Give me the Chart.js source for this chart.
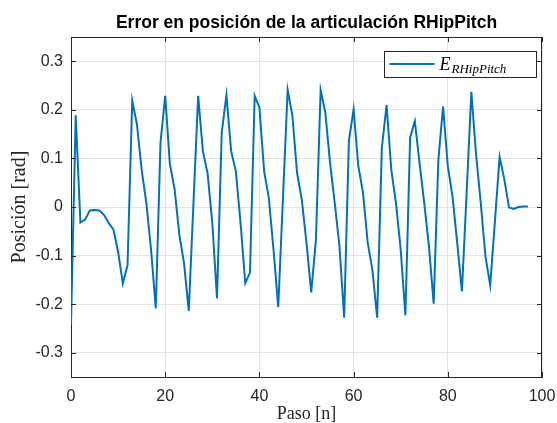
<!DOCTYPE html>
<html>
<head>
<meta charset="utf-8">
<style>
  html, body { margin: 0; padding: 0; background: #fff; }
  #wrap { position: relative; width: 557px; height: 423px; }
</style>
<script src="https://cdn.jsdelivr.net/npm/chart.js@4.4.1/dist/chart.umd.min.js"></script>
</head>
<body>
<div id="wrap"><canvas id="errorChart"></canvas></div>
<script>
// values
const paso = [
  0, 1, 2, 3, 4, 5, 6, 7, 8, 9,
  10, 11, 12, 13, 14, 15, 16, 17, 18, 19,
  20, 21, 22, 23, 24, 25, 26, 27, 28, 29,
  30, 31, 32, 33, 34, 35, 36, 37, 38, 39,
  40, 41, 42, 43, 44, 45, 46, 47, 48, 49,
  50, 51, 52, 53, 54, 55, 56, 57, 58, 59,
  60, 61, 62, 63, 64, 65, 66, 67, 68, 69,
  70, 71, 72, 73, 74, 75, 76, 77, 78, 79,
  80, 81, 82, 83, 84, 85, 86, 87, 88, 89,
  90, 91, 92, 93, 94, 95, 96, 97
];
const errorRHipPitch = [
  -0.243, 0.189, -0.032, -0.026, -0.007, -0.006, -0.007, -0.016, -0.033, -0.046,
  -0.092, -0.157, -0.120, 0.219, 0.170, 0.077, 0.008, -0.088, -0.209, 0.132,
  0.229, 0.088, 0.036, -0.057, -0.116, -0.214, 0.008, 0.229, 0.115, 0.069,
  -0.033, -0.188, 0.153, 0.230, 0.115, 0.074, -0.033, -0.157, -0.135, 0.229,
  0.205, 0.074, 0.019, -0.088, -0.206, 0.018, 0.241, 0.188, 0.070, 0.015,
  -0.074, -0.176, -0.068, 0.241, 0.194, 0.091, 0.008, -0.081, -0.228, 0.136,
  0.201, 0.084, 0.029, -0.074, -0.130, -0.228, 0.122, 0.210, 0.077, 0.008,
  -0.088, -0.223, 0.143, 0.177, 0.091, 0.008, -0.081, -0.199, 0.098, 0.207,
  0.084, 0.022, -0.074, -0.174, 0.030, 0.237, 0.108, 0.008, -0.102, -0.161,
  -0.030, 0.103, 0.057, -0.001, -0.004, 0.000, 0.001, 0.001
];
const xTicks = [0, 20, 40, 60, 80, 100];
const yTicks = [-0.3, -0.2, -0.1, 0, 0.1, 0.2, 0.3];
const titulo = 'Error en posición de la articulación RHipPitch';
const tituloX = 'Paso [n]';
const tituloY = 'Posición [rad]';
const leyendaBase = 'E';
const leyendaSub = 'RHipPitch';

const lineColor = '#0072BD';
const axisColor = '#262626';
const gridColor = '#e3e3e3';
const serif = "'Liberation Serif', 'Times New Roman', serif";
const sans = "'Liberation Sans', Arial, sans-serif";

// MATLAB style box, inward ticks and the legend with a subscript
const matlabBox = {
  id: 'matlabBox',
  afterDraw(chart) {
    const { ctx, scales: { x, y } } = chart;
    const left = x.left, right = x.right, top = y.top, bottom = y.bottom;
    const tick = 5;
    ctx.save();
    ctx.strokeStyle = axisColor;
    ctx.lineWidth = 1;
    ctx.beginPath();
    xTicks.forEach(v => {
      const px = Math.round(x.getPixelForValue(v)) + 0.5;
      ctx.moveTo(px, bottom); ctx.lineTo(px, bottom - tick);
      ctx.moveTo(px, top); ctx.lineTo(px, top + tick);
    });
    yTicks.forEach(v => {
      const py = Math.round(y.getPixelForValue(v)) + 0.5;
      ctx.moveTo(left, py); ctx.lineTo(left + tick, py);
      ctx.moveTo(right, py); ctx.lineTo(right - tick, py);
    });
    ctx.moveTo(left, Math.round(top) + 0.5); ctx.lineTo(right, Math.round(top) + 0.5);
    ctx.moveTo(Math.round(right) - 0.5, top); ctx.lineTo(Math.round(right) - 0.5, bottom);
    ctx.stroke();

    // legend
    const bx = 384.5, by = 51.5, bw = 152, bh = 26;
    ctx.fillStyle = '#fff';
    ctx.fillRect(bx, by, bw, bh);
    ctx.strokeRect(bx, by, bw, bh);
    const ds = chart.data.datasets[0];
    ctx.strokeStyle = ds.borderColor;
    ctx.lineWidth = ds.borderWidth;
    ctx.beginPath();
    ctx.moveTo(bx + 5, by + 12.5);
    ctx.lineTo(bx + 50, by + 12.5);
    ctx.stroke();
    ctx.fillStyle = '#000';
    ctx.textBaseline = 'alphabetic';
    ctx.font = 'italic 18px ' + serif;
    ctx.fillText(leyendaBase, bx + 55, by + 18);
    const w = ctx.measureText(leyendaBase).width;
    ctx.font = 'italic 13px ' + serif;
    ctx.fillText(leyendaSub, bx + 56 + w, by + 21);
    ctx.restore();
  }
};

new Chart(document.getElementById('errorChart'), {
  type: 'line',
  data: {
    labels: paso,
    datasets: [{
      label: leyendaBase + leyendaSub,
      data: errorRHipPitch,
      borderColor: lineColor,
      backgroundColor: lineColor,
      borderWidth: 2,
      pointRadius: 0,
      tension: 0,
      fill: false
    }]
  },
  options: {
    responsive: true,
    maintainAspectRatio: false,
    animation: false,
    layout: { padding: { left: 0, right: 15, top: 0, bottom: 0 } },
    plugins: {
      legend: { display: false },
      tooltip: { enabled: false },
      title: {
        display: true,
        fullSize: false,
        text: titulo,
        color: '#000',
        font: { family: sans, size: 17.5, weight: 'bold', lineHeight: 1.2 },
        padding: { top: 13, bottom: 3 }
      }
    },
    scales: {
      x: {
        type: 'linear',
        min: 0,
        max: 100,
        afterBuildTicks: s => { s.ticks = xTicks.map(v => ({ value: v })); },
        afterFit: s => { s.height = 46; s.paddingLeft = 0; s.paddingRight = 0; },
        grid: { color: gridColor, drawTicks: false },
        border: { color: axisColor },
        ticks: { color: axisColor, padding: 10, maxRotation: 0,
                 font: { family: sans, size: 16 } },
        title: { display: true, text: tituloX, color: axisColor,
                 font: { family: serif, size: 18, lineHeight: 1 },
                 padding: { top: 0, bottom: 0 } }
      },
      y: {
        min: -0.35,
        max: 0.35,
        afterBuildTicks: s => { s.ticks = yTicks.map(v => ({ value: v })); },
        afterFit: s => { s.width = 71; s.paddingTop = 0; s.paddingBottom = 0; },
        grid: { color: gridColor, drawTicks: false },
        border: { color: axisColor },
        ticks: { color: axisColor, padding: 8,
                 font: { family: sans, size: 16 },
                 callback: v => (v === 0 ? '0' : v.toFixed(1)) },
        title: { display: true, text: tituloY, color: axisColor,
                 font: { family: serif, size: 20, lineHeight: 1 },
                 padding: { top: 10, bottom: 0 } }
      }
    }
  },
  plugins: [matlabBox]
});
</script>
</body>
</html>
